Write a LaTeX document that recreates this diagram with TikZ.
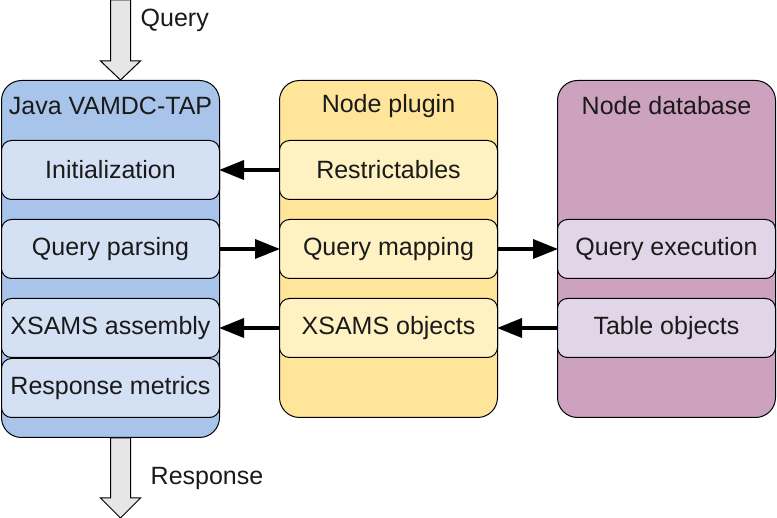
\documentclass[tikz,border=0pt]{standalone}
\usepackage{fontspec}
\setmainfont{Liberation Sans}
\usepackage{xcolor}
\usetikzlibrary{calc, positioning, arrows.meta}

\definecolor{tapDark}{HTML}{A9C4EB}
\definecolor{tapLight}{HTML}{D4E1F5}
\definecolor{pluginDark}{HTML}{FFE599}
\definecolor{pluginLight}{HTML}{FFF2C2}
\definecolor{dbDark}{HTML}{CDA2BE}
\definecolor{dbLight}{HTML}{E1D5E7}
\definecolor{flowGrey}{HTML}{E6E6E6}
\definecolor{textDark}{HTML}{1A1A1A}

\tikzset{
	column/.style = {draw, line width=1pt, rounded corners=20pt, minimum width=218pt, anchor=north west, inner sep=0pt},
	inner/.style = {draw, line width=1pt, rounded corners=10pt, minimum width=218pt, minimum height=59pt, anchor=north west, inner sep=0pt, text=textDark},
	title/.style = {text=textDark, inner sep=0pt},
	link/.style = {line width=3.5pt, -{Triangle[length=25pt,width=19pt]}, shorten >=-1pt},
	flow/.style = {draw, line width=1pt, fill=flowGrey}
}

\begin{document}
\begin{tikzpicture}[x=1pt, y=-1pt, font=\fontsize{25}{30}\selectfont]
			\useasboundingbox (0,0) rectangle (777,518);

			\def\colTOP{80};
			\def\rowA{140};
			\def\rowB{219};
			\def\rowC{298};
			\def\rowD{358};

			% columns
			\begin{scope}
				\node [column, fill=tapDark, minimum height=357pt] (tap) at (1,\colTOP) {};
				\node [column, fill=pluginDark, minimum height=337pt] (plugin) at (279,\colTOP) {};
				\node [column, fill=dbDark, minimum height=337pt] (db) at (557,\colTOP) {};

				\node [title] (tapTitle) at ($(tap.north)+(0,26)$) {Java VAMDC-TAP};
				\node [title] (pluginTitle) at ($(plugin.north)+(0,26)$) {Node plugin};
				\node [title] (dbTitle) at ($(db.north)+(0,26)$) {Node database};
			\end{scope}

			% boxes
			\begin{scope}
				\node [inner, fill=tapLight] (init) at (1,\rowA) {Initialization};
				\node [inner, fill=tapLight] (parse) at (1,\rowB) {Query parsing};
				\node [inner, fill=tapLight] (assembly) at (1,\rowC) {XSAMS assembly};
				\node [inner, fill=tapLight] (metrics) at (1,\rowD) {Response metrics};

				\node [inner, fill=pluginLight] (restrict) at (279,\rowA) {Restrictables};
				\node [inner, fill=pluginLight] (mapping) at (279,\rowB) {Query mapping};
				\node [inner, fill=pluginLight] (xobjects) at (279,\rowC) {XSAMS objects};

				\node [inner, fill=dbLight] (execution) at (557,\rowB) {Query execution};
				\node [inner, fill=dbLight] (tables) at (557,\rowC) {Table objects};
			\end{scope}

			% links
			\begin{scope}
				\draw [link] (restrict) -- (init);
				\draw [link] (parse) -- (mapping);
				\draw [link] (mapping) -- (execution);
				\draw [link] (xobjects) -- (assembly);
				\draw [link] (tables) -- (xobjects);
			\end{scope}

			% query in, response out
			\coordinate (inTip) at ($(tap.north)+(10,0)$);
			\coordinate (outTop) at ($(tap.south)+(10,0)$);
			\begin{scope}
				\draw [flow] ($(inTip)+(-10,-80)$) -- ($(inTip)+(10,-80)$) -- ($(inTip)+(10,-19)$) -- ($(inTip)+(20,-19)$) -- (inTip) -- ($(inTip)+(-20,-19)$) -- ($(inTip)+(-10,-19)$) -- cycle;
				\draw [flow] ($(outTop)+(-10,0)$) -- ($(outTop)+(10,0)$) -- ($(outTop)+(10,60)$) -- ($(outTop)+(20,60)$) -- ($(outTop)+(0,80)$) -- ($(outTop)+(-20,60)$) -- ($(outTop)+(-10,60)$) -- cycle;

				\node [title, anchor=west] (query) at ($(inTip)+(20,-60)$) {Query};
				\node [title, anchor=west] (response) at ($(outTop)+(30,40)$) {Response};
			\end{scope}
		\end{tikzpicture}
\end{document}
